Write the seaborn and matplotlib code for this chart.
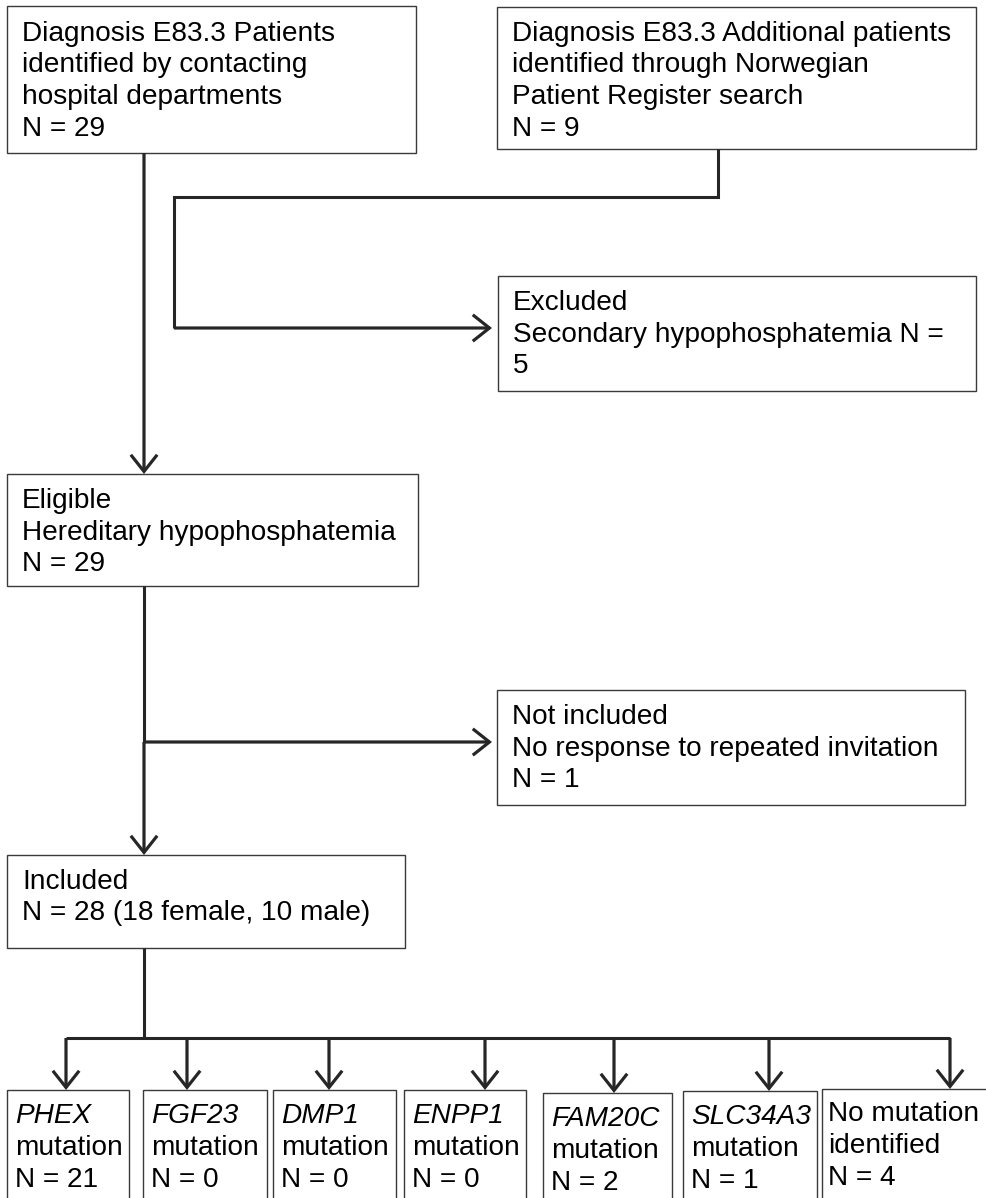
import matplotlib
matplotlib.use('Agg')
import matplotlib.pyplot as plt
import seaborn as sns
from matplotlib.patches import Rectangle, FancyArrowPatch

sns.set_theme(style='white')
plt.rcParams['font.family'] = ['Liberation Sans', 'DejaVu Sans']

# --- data ---
source_text = [
    ['Diagnosis E83.3 Patients', 'identified by contacting', 'hospital departments'],
    ['Diagnosis E83.3 Additional patients', 'identified through Norwegian', 'Patient Register search'],
]
source_n = [29, 9]
excluded_n = 5
eligible_n = 29
not_included_n = 1
included_n = 28
included_sex = [18, 10]  # female, male
genes = ['PHEX', 'FGF23', 'DMP1', 'ENPP1', 'FAM20C', 'SLC34A3']
gene_n = [21, 0, 0, 0, 2, 1]
no_mutation_n = 4

# --- figure ---
fig = plt.figure(figsize=(9.86, 11.98), dpi=100)
ax = fig.add_axes([0, 0, 1, 1])
ax.set_xlim(0, 986)
ax.set_ylim(1198, 0)
ax.axis('off')

LINE = '#262626'
FS = 20.2


def box(x0, y0, x1, y1, lines, italic_first=False, dx=15, base=35, step=31.5):
    ax.add_patch(Rectangle((x0, y0), x1 - x0, y1 - y0, fill=False,
                           ec='#3a3a3a', lw=1.0, zorder=2))
    for i, t in enumerate(lines):
        ax.text(x0 + dx, y0 + base + i * step, t, fontsize=FS, va='baseline',
                ha='left', color='black',
                style='italic' if (italic_first and i == 0) else 'normal')


def line(xs, ys):
    ax.plot(xs, ys, color=LINE, lw=2.2, solid_capstyle='butt',
            solid_joinstyle='miter', zorder=3)


def arrow(p0, p1):
    ax.add_patch(FancyArrowPatch(p0, p1, arrowstyle='->,head_length=12,head_width=9.5',
                                 mutation_scale=1, color=LINE, lw=2.3,
                                 shrinkA=0, shrinkB=0, joinstyle='miter',
                                 capstyle='butt', zorder=3))


# top boxes
box(7, 6, 416, 153, source_text[0] + [f'N = {source_n[0]}'])
box(497, 7, 976, 149, source_text[1] + [f'N = {source_n[1]}'], base=34)

# excluded
box(498, 276, 976, 391, ['Excluded', 'Secondary hypophosphatemia N =', f'{excluded_n}'], base=34)

# eligible
box(7, 474, 418, 586, ['Eligible', 'Hereditary hypophosphatemia', f'N = {eligible_n}'], base=34)

# not included
box(497, 690, 965, 805, ['Not included', 'No response to repeated invitation',
                         f'N = {not_included_n}'], base=34)

# included
box(7, 855, 405, 948, ['Included',
                       f'N = {included_n} ({included_sex[0]} female, {included_sex[1]} male)'],
    base=34)

# connectors
arrow((144, 153), (144, 474))
line([718, 718, 174, 174], [149, 197, 197, 328])
arrow((174, 328), (492, 328))
line([144, 144], [586, 742])
arrow((144, 742), (492, 742))
arrow((144, 742), (144, 855))
line([144, 144], [948, 1038])

# bottom row
bx = [(7, 129), (143, 267), (273, 396), (404, 526), (543, 672), (683, 817), (822, 990)]
tops = [1090, 1090, 1090, 1090, 1093, 1091, 1089]
ax_x = [66, 187, 329, 485, 614, 769, 950]
line([ax_x[0], ax_x[-1]], [1038, 1038])
for i, g in enumerate(genes):
    x0, x1 = bx[i]
    box(x0, tops[i], x1, 1215, [g, 'mutation', f'N = {gene_n[i]}'],
        italic_first=True, dx=8, base=33, step=32)
    arrow((ax_x[i], 1038), (ax_x[i], tops[i]))
x0, x1 = bx[-1]
box(x0, tops[-1], x1, 1215, ['No mutation', 'identified', f'N = {no_mutation_n}'],
    dx=6, base=32, step=32)
arrow((ax_x[-1], 1038), (ax_x[-1], tops[-1]))

fig.savefig('out.png', dpi=100, facecolor='white')
